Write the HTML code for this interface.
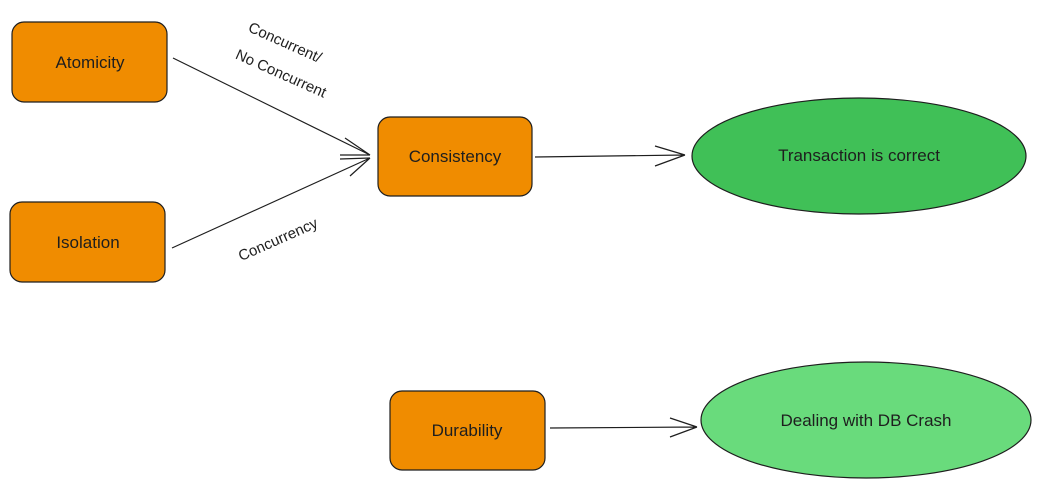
<!DOCTYPE html>
<html><head><style>
body{margin:0;background:#fff;}
svg text{font-family:"Liberation Sans",sans-serif;fill:#1e1e1e;}
</style></head><body>
<svg width="1041" height="491" xmlns="http://www.w3.org/2000/svg">
<g stroke="#1e1e1e" stroke-width="1.2" fill="#f08c00">
<rect x="12" y="22" width="155" height="80" rx="12"/>
<rect x="10" y="202" width="155" height="80" rx="12"/>
<rect x="378" y="117" width="154" height="79" rx="12"/>
<rect x="390" y="391" width="155" height="79" rx="12"/>
<ellipse cx="859" cy="156" rx="167" ry="58" fill="#40c057"/>
<ellipse cx="866" cy="420" rx="165" ry="58" fill="#69db7c"/>
</g>
<g stroke="#1e1e1e" stroke-width="1.2" fill="none">
<path d="M173 58 L370 155 M345 138 L370 155 M340 155 L370 155"/>
<path d="M172 248 L370 158 M340 159 L370 158 M350 176 L370 158"/>
<path d="M535 157 L685 155 M655 146 L685 155 M655 166 L685 155"/>
<path d="M550 428 L697 427 M670 418 L697 427 M670 437 L697 427"/>
</g>
<g font-size="17" text-anchor="middle">
<text x="90" y="68">Atomicity</text>
<text x="88" y="248">Isolation</text>
<text x="455" y="162">Consistency</text>
<text x="467" y="436">Durability</text>
<text x="859" y="161">Transaction is correct</text>
<text x="866" y="426">Dealing with DB Crash</text>
</g>
<g font-size="15" text-anchor="middle">
<text transform="translate(283,47) rotate(24)">Concurrent/</text>
<text transform="translate(279,78) rotate(24)">No Concurrent</text>
<text transform="translate(280,244) rotate(-24)">Concurrency</text>
</g>
</svg>
</body></html>
